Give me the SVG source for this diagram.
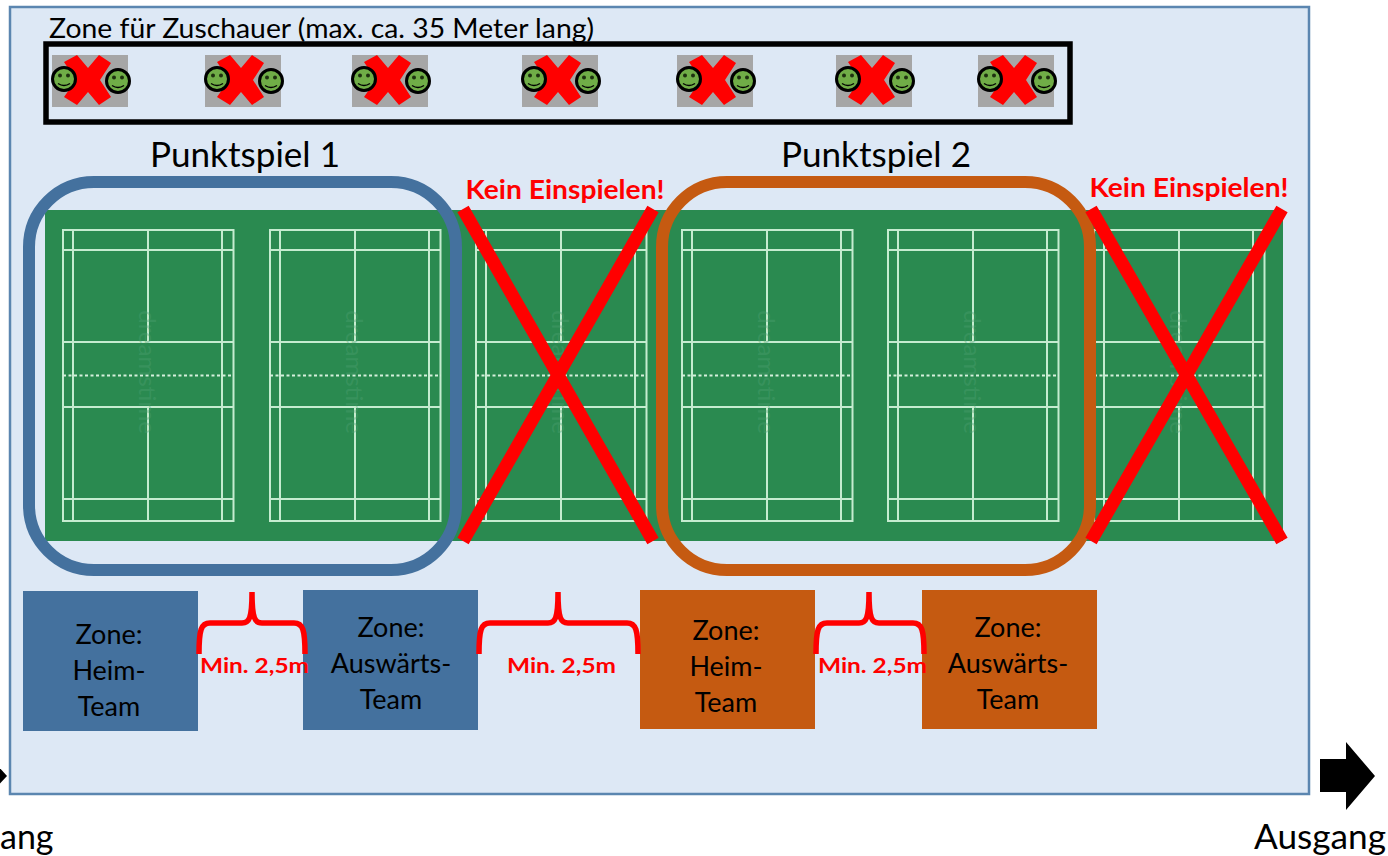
<svg xmlns="http://www.w3.org/2000/svg" width="1388" height="856" viewBox="0 0 1388 856">
<style>
text{font-family:Lato,"Open Sans","Liberation Sans",sans-serif;fill:#000}
.lbl{font-size:27px;text-anchor:middle}
.title{font-size:34px;text-anchor:middle}
.red{font-size:26px;font-weight:700;fill:#f00;text-anchor:middle}
.min{font-size:21px;font-weight:700;fill:#f00;text-anchor:middle}
.line{stroke:#c5ecd0;stroke-width:2;fill:none}
.xl{stroke:#f00;stroke-width:13;fill:none}
.brace{stroke:#f00;stroke-width:5.500;fill:none}
.blue{fill:#44719e}
.orange{fill:#c55a11}
.wm{font-size:24px;fill:#4fa070;fill-opacity:.4;text-anchor:middle}
</style>
<defs>
<g id="court">
<rect class="line" x="63" y="230" width="170.500" height="291"/>
<path class="line" d="M73 230V521M222 230V521M148 230V342M148 407V521M63 250H233.500M63 342H233.500M63 407H233.500M63 499H233.500"/>
<path d="M63 375.500H234" stroke="#d5f0dc" stroke-width="2" stroke-dasharray="3 2.500" fill="none"/>
<text class="wm" transform="translate(139 372) rotate(90)">dreamstime</text>
</g>
<g id="smile">
<circle r="11.500" fill="#70ad47" stroke="#000" stroke-width="3"/>
<circle cx="-4" cy="-3.500" r="2" fill="#1e3010"/><circle cx="4" cy="-3.500" r="2" fill="#1e3010"/>
<path d="M-6 4.500Q0 8.500 6 4.500" stroke="#000" stroke-width="1.500" fill="none"/>
</g>
<g id="spot">
<rect x="0" y="0" width="76" height="52" fill="#a6a6a6"/>
<path d="M12 7L25 0L36 13L47 0L59 8L48 25L59 42L47 50L36 37L25 50L12 42L24 25Z" fill="#f00"/>
<use href="#smile" x="12" y="24"/>
<use href="#smile" x="66" y="26"/>
</g>
</defs>

<g id="hall">
<rect x="10" y="7" width="1299" height="787" fill="#dde8f5" stroke="#5b86b0" stroke-width="2.500"/>
</g>

<g id="spectators">
<text x="49" y="37.500" font-size="26" textLength="545" lengthAdjust="spacingAndGlyphs">Zone für Zuschauer (max. ca. 35 Meter lang)</text>
<rect x="46" y="44" width="1024" height="78" fill="none" stroke="#000" stroke-width="5.500"/>
<use href="#spot" x="52" y="55"/>
<use href="#spot" x="205" y="55"/>
<use href="#spot" x="352" y="55"/>
<use href="#spot" x="522" y="55"/>
<use href="#spot" x="677" y="55"/>
<use href="#spot" x="836" y="55"/>
<use href="#spot" x="978" y="55"/>
</g>

<g id="courts">
<rect x="45" y="210" width="1238" height="331" fill="#2a8a50"/>
<use href="#court"/>
<use href="#court" x="207"/>
<use href="#court" x="413"/>
<use href="#court" x="619"/>
<use href="#court" x="825"/>
<use href="#court" x="1031"/>
</g>

<g id="match1">
<rect x="29" y="182" width="427" height="388" rx="65" fill="none" stroke="#44719e" stroke-width="12"/>
<text class="title" x="245" y="167" textLength="190" lengthAdjust="spacingAndGlyphs">Punktspiel 1</text>
</g>
<g id="match2">
<rect x="662" y="182" width="428" height="388" rx="65" fill="none" stroke="#c55a11" stroke-width="12"/>
<text class="title" x="876" y="167" textLength="190" lengthAdjust="spacingAndGlyphs">Punktspiel 2</text>
</g>

<g id="nogo1">
<path class="xl" d="M463 209L653 541M653 209L463 541"/>
<text class="red" x="565" y="199" textLength="199" lengthAdjust="spacingAndGlyphs">Kein Einspielen!</text>
</g>
<g id="nogo2">
<path class="xl" d="M1091 209L1282 541M1282 209L1091 541"/>
<text class="red" x="1189" y="197" textLength="199" lengthAdjust="spacingAndGlyphs">Kein Einspielen!</text>
</g>

<g id="zone-heim-1">
<rect class="blue" x="23" y="591" width="175" height="140"/>
<text class="lbl" x="109" y="644">Zone:</text><text class="lbl" x="109" y="680">Heim-</text><text class="lbl" x="109" y="716">Team</text>
</g>
<g id="zone-aus-1">
<rect class="blue" x="303" y="590" width="175" height="140"/>
<text class="lbl" x="391" y="637">Zone:</text><text class="lbl" x="391" y="673">Auswärts-</text><text class="lbl" x="391" y="709">Team</text>
</g>
<g id="zone-heim-2">
<rect class="orange" x="640" y="590" width="175" height="139"/>
<text class="lbl" x="726" y="640">Zone:</text><text class="lbl" x="726" y="676">Heim-</text><text class="lbl" x="726" y="712">Team</text>
</g>
<g id="zone-aus-2">
<rect class="orange" x="922" y="590" width="175" height="139"/>
<text class="lbl" x="1008" y="637">Zone:</text><text class="lbl" x="1008" y="673">Auswärts-</text><text class="lbl" x="1008" y="709">Team</text>
</g>

<g id="connectors">
<path class="brace" d="M199 654C199 630 201 623 210 623H242C249 623 252 619 252 592C252 619 255 623 262 623H294C303 623 305 630 305 654"/>
<path class="brace" d="M479 654C479 630 481 623 490 623H548C555 623 558 619 558 592C558 619 561 623 568 623H627C636 623 638 630 638 654"/>
<path class="brace" d="M816 654C816 630 818 623 827 623H859C866 623 869 619 869 592C869 619 872 623 879 623H913C922 623 924 630 924 654"/>
</g>
<g id="dimensions">
<text class="min" x="254.500" y="673" textLength="109" lengthAdjust="spacingAndGlyphs">Min. 2,5m</text>
<text class="min" x="561.500" y="673" textLength="109" lengthAdjust="spacingAndGlyphs">Min. 2,5m</text>
<text class="min" x="872.500" y="673" textLength="109" lengthAdjust="spacingAndGlyphs">Min. 2,5m</text>
</g>

<g id="entrance">
<path d="M-10 757L7 776L-10 794Z" fill="#000"/>
<text x="0" y="849" font-size="34">ang</text>
</g>
<g id="exit">
<path d="M1320 759H1346V742L1375 776L1346 810V792H1320Z" fill="#000"/>
<text x="1254" y="849" font-size="34" textLength="132" lengthAdjust="spacingAndGlyphs">Ausgang</text>
</g>
</svg>
